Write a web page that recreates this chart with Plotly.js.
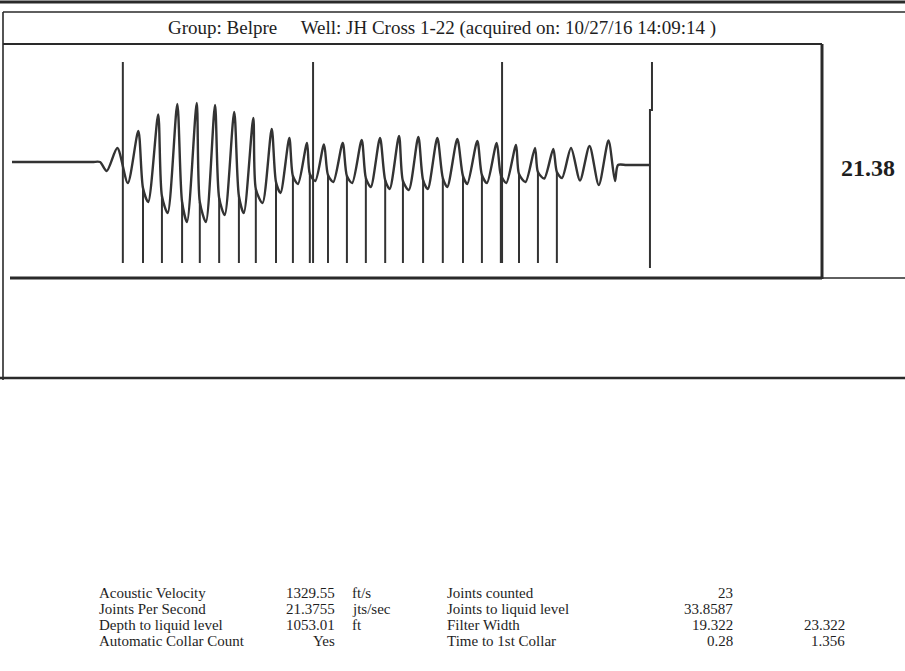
<!DOCTYPE html>
<html><head><meta charset="utf-8">
<script src="https://cdn.plot.ly/plotly-3.0.1.min.js"></script>
<style>html,body{margin:0;padding:0;background:#fff;}</style>
</head><body><div id="chart" style="width:905px;height:671px;"></div>
<script>
// ---- Data (time in s, amplitude in arbitrary units) ----
const extremaT = [0.005,0.150,0.2050,0.2233,0.2400,0.2663,0.2923,0.3184,0.3429,0.3677,0.3913,0.4151,0.4392,0.4633,0.4861,0.5087,0.5328,0.5563,0.5801,0.6037,0.6266,0.6494,0.6712,0.6931,0.7146,0.7370,0.7576,0.7792,0.8022,0.8256,0.8491,0.8727,0.8953,0.9181,0.9422,0.9653,0.9896,1.0132,1.0367,1.0603,1.0851,1.1099,1.1347,1.1596,1.1836,1.2077,1.2315,1.2556,1.2792,1.3027,1.3256,1.3481,1.3697,1.3921,1.4144,1.4380,1.4610,1.4851,1.5012,1.5087,1.5300,1.5881];
const extremaA = [0,0,0,0,-9,14,-21,31,-40,47.5,-51,58,-60,59,-60,57,-53,50,-51,44,-41,33,-31,24,-22,19,-19,17.5,-20,19,-21,22,-25,24,-27,26,-28,25,-27,24,-25,23,-22,21,-21,19,-21,17,-20,14,-16.5,13,-16,14,-18.5,16,-23,21.5,-19,-3,-3,-3];

// collar (joint) detections: time and where the marker leaves the trace
const collarT = [0.330,0.377,0.427,0.471,0.519,0.568,0.610,0.660,0.702,0.744,0.789,0.836,0.883,0.931,0.975,1.025,1.074,1.124,1.171,1.218,1.263,1.310,1.357];
const collarA = [-26,-34,-40,-40,-36,-34,-27,-20,-14,-12,-13,-14,-16,-18,-19,-18,-16,-14,-13,-13,-12,-10,-10];
const collarBottom = -101;

// tall reference markers
const tallT = [0.280,0.752,1.221];
const tallTop = 100;
const endMarkerT = [1.593,1.593,1.588,1.588];
const endMarkerA = [100,52,52,-106];

const rateLabel = "21.38";
const titleText = "Group: Belpre&nbsp;&nbsp;&nbsp;&nbsp; Well: JH Cross 1-22 (acquired on: 10/27/16 14:09:14 )";

const leftLabels = ["Acoustic Velocity","Joints Per Second","Depth to liquid level","Automatic Collar Count"];
const leftValues = ["1329.55","21.3755","1053.01","Yes"];
const leftUnits  = ["ft/s","jts/sec","ft",""];
const rightLabels = ["Joints counted","Joints to liquid level","Filter Width","Time to 1st Collar"];
const rightValues = ["23","33.8587","19.322","0.28"];
const rightValues2 = ["","","23.322","1.356"];

// ---- Build traces ----
const pts = [];
extremaT.forEach((t,i)=>pts.push([t,extremaA[i]]));
collarT.forEach((t,i)=>pts.push([t,collarA[i]]));
pts.sort((a,b)=>a[0]-b[0]);
const waveX = pts.map(p=>p[0]), waveY = pts.map(p=>p[1]);

const cx=[], cy=[];
collarT.forEach((t,i)=>{cx.push(t,t,null); cy.push(collarA[i],collarBottom,null);});
const tx=[], ty=[];
tallT.forEach(t=>{tx.push(t,t,null); ty.push(tallTop,collarBottom,null);});

const ink = '#333333';
const traces = [
  {x:waveX,y:waveY,mode:'lines',line:{color:ink,width:2.4,shape:'spline',smoothing:0.75},hoverinfo:'skip'},
  {x:cx,y:cy,mode:'lines',line:{color:ink,width:2},hoverinfo:'skip'},
  {x:tx,y:ty,mode:'lines',line:{color:ink,width:2},hoverinfo:'skip'},
  {x:endMarkerT,y:endMarkerA,mode:'lines',line:{color:ink,width:2},hoverinfo:'skip'}
];

// ---- Layout (pixel helpers for frame decorations) ----
const L=10, R=822, T=45, B=278;
const px = v => (v-L)/(R-L);
const py = v => (B-v)/(B-T);
function hline(y,x0,x1,w){return {type:'line',xref:'paper',yref:'paper',x0:px(x0),x1:px(x1),y0:py(y),y1:py(y),line:{color:'#2a2a2a',width:w}};}
function vline(x,y0,y1,w){return {type:'line',xref:'paper',yref:'paper',x0:px(x),x1:px(x),y0:py(y0),y1:py(y1),line:{color:'#2a2a2a',width:w}};}

const shapes = [
  hline(2,0,905,3),
  hline(12,3,905,1.6),
  vline(3,12,380,1.6),
  hline(44,3,822,2),
  vline(822,44,279,3),
  hline(278,10,822,3),
  hline(278,822,905,1.5),
  hline(378,0,905,2.5)
];

const serif = 'Liberation Serif, Times New Roman, serif';
const txt = '#1e1e1e';
const ann = [];
function add(text,x,y,anchor,size,bold){
  ann.push({text: bold?'<b>'+text+'</b>':text, xref:'paper',yref:'paper',x:px(x),y:py(y),xanchor:anchor,yanchor:'middle',showarrow:false,font:{family:serif,size:size,color:txt}});
}
add(titleText,442,28,'center',19,false);
add(rateLabel,868,168,'center',24,true);
const rows=[593,609,625,641];
rows.forEach((y,i)=>{
  add(leftLabels[i],97,y,'left',15);
  add(leftValues[i],337,y,'right',15);
  if(leftUnits[i]) add(leftUnits[i],350,y,'left',15);
  add(rightLabels[i],445,y,'left',15);
  add(rightValues[i],735,y,'right',15);
  if(rightValues2[i]) add(rightValues2[i],847,y,'right',15);
});

const layout = {
  width:905,height:671,
  margin:{l:L,r:905-R,t:T,b:671-B,pad:0},
  paper_bgcolor:'#fff',plot_bgcolor:'#fff',
  showlegend:false,
  xaxis:{range:[0,(R-L)/403],showgrid:false,zeroline:false,showticklabels:false,ticks:'',showline:false,fixedrange:true},
  yaxis:{range:[-116,117],showgrid:false,zeroline:false,showticklabels:false,ticks:'',showline:false,fixedrange:true},
  shapes:shapes,
  annotations:ann
};
Plotly.newPlot('chart',traces,layout,{displayModeBar:false,staticPlot:true});
</script></body></html>
